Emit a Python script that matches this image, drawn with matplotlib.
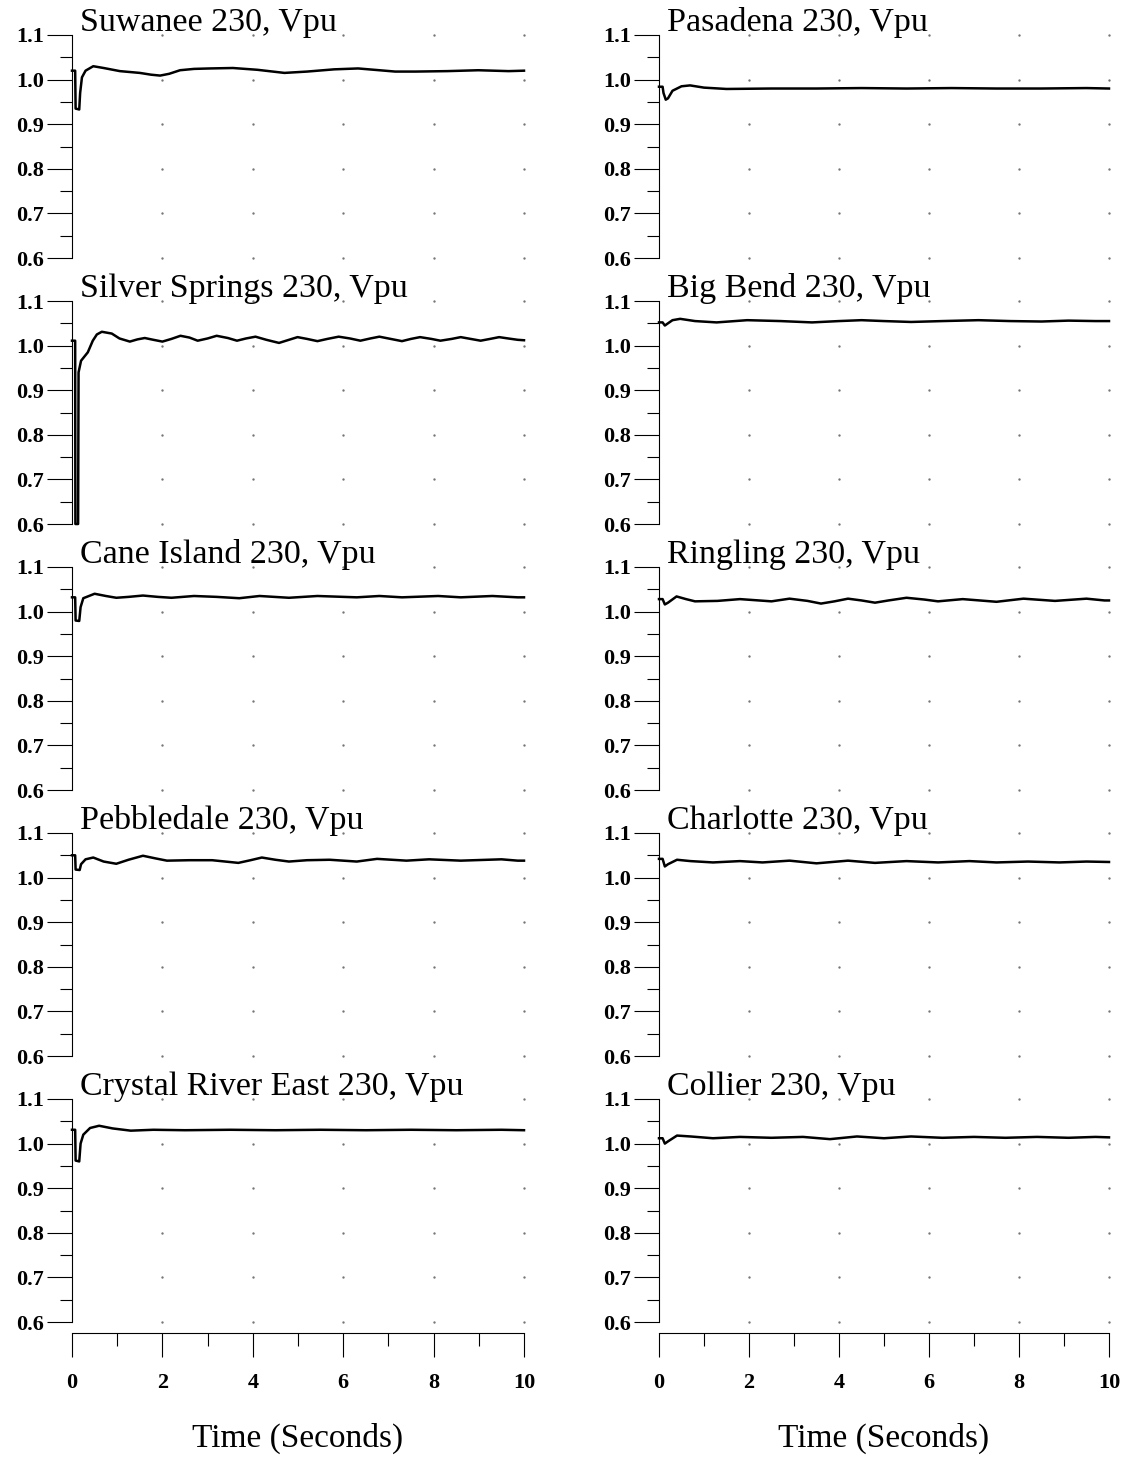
import numpy as np
import matplotlib
matplotlib.use("Agg")
import matplotlib.pyplot as plt

plt.rcParams['font.family'] = ['Liberation Serif', 'DejaVu Serif']

# ---- data (time in s, voltage in pu) ----
suwanee_t = [0, 0.07, 0.08, 0.16, 0.18, 0.22, 0.3, 0.47, 0.7, 1.06, 1.5, 1.75, 1.95, 2.15, 2.39, 2.7,
             3.05, 3.56, 4.1, 4.7, 5.2, 5.8, 6.33, 6.8, 7.15, 7.6, 8.3, 8.99, 9.66, 10]
suwanee_v = [1.02, 1.02, 0.935, 0.933, 0.97, 1.005, 1.02, 1.030, 1.026, 1.019, 1.015, 1.011, 1.009, 1.013,
             1.021, 1.024, 1.025, 1.026, 1.022, 1.015, 1.018, 1.023, 1.025, 1.021, 1.018, 1.018, 1.019,
             1.021, 1.019, 1.02]

silver_t = [0, 0.07, 0.075, 0.135, 0.145, 0.2, 0.35, 0.46, 0.55, 0.66, 0.88, 1.05, 1.28, 1.45, 1.61, 1.8,
            2.0, 2.2, 2.4, 2.6, 2.78, 3.0, 3.2, 3.45, 3.65, 3.85, 4.06, 4.3, 4.58, 4.8, 4.99, 5.2, 5.43,
            5.65, 5.9, 6.15, 6.38, 6.6, 6.8, 7.05, 7.3, 7.5, 7.7, 7.95, 8.15, 8.4, 8.6, 8.82, 9.04, 9.25,
            9.45, 9.65, 9.86, 10]
silver_v = [1.011, 1.011, 0.6, 0.6, 0.94, 0.966, 0.985, 1.011, 1.025, 1.031, 1.027, 1.016, 1.009, 1.014,
            1.017, 1.013, 1.009, 1.015, 1.022, 1.018, 1.011, 1.016, 1.022, 1.017, 1.011, 1.016, 1.020,
            1.013, 1.006, 1.013, 1.019, 1.015, 1.010, 1.015, 1.020, 1.016, 1.011, 1.016, 1.020, 1.015,
            1.010, 1.015, 1.019, 1.015, 1.011, 1.015, 1.019, 1.015, 1.011, 1.015, 1.019, 1.016, 1.013, 1.012]

cane_t = [0, 0.07, 0.08, 0.16, 0.19, 0.25, 0.5, 0.75, 0.98, 1.25, 1.57, 1.9, 2.2, 2.7, 3.2, 3.7, 4.15,
          4.8, 5.43, 6.3, 6.8, 7.3, 8.1, 8.6, 9.3, 9.86, 10]
cane_v = [1.032, 1.032, 0.98, 0.979, 1.01, 1.03, 1.040, 1.035, 1.031, 1.033, 1.036, 1.033, 1.031, 1.035,
          1.033, 1.030, 1.035, 1.031, 1.035, 1.032, 1.035, 1.032, 1.035, 1.032, 1.035, 1.032, 1.032]

pebble_t = [0, 0.07, 0.08, 0.17, 0.2, 0.3, 0.47, 0.7, 0.98, 1.25, 1.57, 1.85, 2.1, 2.6, 3.1, 3.68, 3.95,
            4.2, 4.5, 4.8, 5.2, 5.7, 6.3, 6.75, 7.4, 7.9, 8.6, 9.5, 9.86, 10]
pebble_v = [1.05, 1.05, 1.018, 1.017, 1.03, 1.041, 1.045, 1.036, 1.031, 1.04, 1.049, 1.043, 1.038, 1.039,
            1.039, 1.033, 1.039, 1.045, 1.04, 1.036, 1.039, 1.040, 1.036, 1.042, 1.038, 1.041, 1.038,
            1.041, 1.038, 1.038]

crystal_t = [0, 0.07, 0.08, 0.16, 0.19, 0.25, 0.4, 0.6, 0.9, 1.3, 1.8, 2.5, 3.5, 4.5, 5.5, 6.5, 7.5,
             8.5, 9.5, 10]
crystal_v = [1.031, 1.031, 0.962, 0.96, 1.0, 1.02, 1.035, 1.04, 1.034, 1.029, 1.031, 1.030, 1.031, 1.03,
             1.031, 1.03, 1.031, 1.03, 1.031, 1.03]

pasadena_t = [0, 0.08, 0.1, 0.15, 0.2, 0.3, 0.5, 0.69, 1.0, 1.5, 2.5, 3.5, 4.5, 5.5, 6.5, 7.5, 8.5, 9.5, 10]
pasadena_v = [0.984, 0.984, 0.97, 0.955, 0.958, 0.975, 0.985, 0.987, 0.982, 0.979, 0.980, 0.980, 0.981,
              0.980, 0.981, 0.980, 0.980, 0.981, 0.980]

bigbend_t = [0, 0.08, 0.13, 0.2, 0.3, 0.47, 0.8, 1.28, 1.96, 2.7, 3.4, 4.0, 4.5, 5.0, 5.6, 6.3, 7.1, 7.8,
             8.5, 9.1, 9.7, 10]
bigbend_v = [1.052, 1.052, 1.045, 1.05, 1.057, 1.060, 1.055, 1.052, 1.057, 1.055, 1.052, 1.055, 1.057,
             1.055, 1.053, 1.055, 1.057, 1.055, 1.054, 1.056, 1.055, 1.055]

ringling_t = [0, 0.08, 0.13, 0.2, 0.39, 0.6, 0.8, 1.3, 1.8, 2.5, 2.9, 3.3, 3.6, 3.9, 4.2, 4.5, 4.8, 5.1,
              5.5, 5.9, 6.2, 6.75, 7.5, 8.1, 8.8, 9.5, 9.9, 10]
ringling_v = [1.028, 1.028, 1.016, 1.02, 1.034, 1.028, 1.023, 1.024, 1.028, 1.023, 1.029, 1.024, 1.018,
              1.023, 1.029, 1.025, 1.020, 1.025, 1.031, 1.027, 1.023, 1.028, 1.022, 1.029, 1.024, 1.029,
              1.025, 1.025]

charlotte_t = [0, 0.08, 0.13, 0.2, 0.4, 0.7, 1.2, 1.8, 2.3, 2.9, 3.5, 4.2, 4.8, 5.5, 6.2, 6.9, 7.5, 8.2,
               8.9, 9.5, 10]
charlotte_v = [1.042, 1.042, 1.025, 1.03, 1.040, 1.037, 1.034, 1.037, 1.034, 1.038, 1.032, 1.038, 1.033,
               1.037, 1.034, 1.037, 1.034, 1.036, 1.034, 1.036, 1.035]

collier_t = [0, 0.08, 0.13, 0.2, 0.4, 0.7, 1.2, 1.8, 2.5, 3.2, 3.8, 4.4, 5.0, 5.6, 6.3, 7.0, 7.7, 8.4,
             9.1, 9.7, 10]
collier_v = [1.012, 1.012, 1.0, 1.005, 1.018, 1.016, 1.012, 1.015, 1.013, 1.015, 1.010, 1.016, 1.012,
             1.016, 1.013, 1.015, 1.013, 1.015, 1.013, 1.015, 1.014]

left_names = ["Suwanee 230, Vpu", "Silver Springs 230, Vpu", "Cane Island 230, Vpu",
              "Pebbledale 230, Vpu", "Crystal River East 230, Vpu"]
right_names = ["Pasadena 230, Vpu", "Big Bend 230, Vpu", "Ringling 230, Vpu",
               "Charlotte 230, Vpu", "Collier 230, Vpu"]
left_data = [(suwanee_t, suwanee_v), (silver_t, silver_v), (cane_t, cane_v),
             (pebble_t, pebble_v), (crystal_t, crystal_v)]
right_data = [(pasadena_t, pasadena_v), (bigbend_t, bigbend_v), (ringling_t, ringling_v),
              (charlotte_t, charlotte_v), (collier_t, collier_v)]

y_ticks = [0.6, 0.7, 0.8, 0.9, 1.0, 1.1]
y_minor = [0.65, 0.75, 0.85, 0.95, 1.05]
x_ticks = [0, 2, 4, 6, 8, 10]
x_minor = [1, 3, 5, 7, 9]

W, H = 1125, 1457
fig = plt.figure(figsize=(W / 100, H / 100), dpi=100)

columns = [(72, 452, left_names, left_data), (659, 450, right_names, right_data)]

for x0, xw, names, data in columns:
    for r in range(5):
        bottom = 1 - (258 + 266 * r) / H
        ax = fig.add_axes([x0 / W, bottom, xw / W, 223 / H])
        ax.set_xlim(0, 10)
        ax.set_ylim(0.6, 1.1)
        for s in ['top', 'right', 'bottom']:
            ax.spines[s].set_visible(False)
        ax.spines['left'].set_linewidth(0.8)
        ax.set_xticks([])
        ax.set_yticks(y_ticks)
        ax.set_yticklabels(["%.1f" % v for v in y_ticks], fontweight='bold')
        ax.set_yticks(y_minor, minor=True)
        ax.tick_params(axis='y', which='major', direction='out', length=18, width=0.8,
                       labelsize=16, pad=2)
        ax.tick_params(axis='y', which='minor', direction='out', length=9, width=0.8)

        # dotted grid: one dot per (x major, y major) crossing
        gx, gy = np.meshgrid(x_ticks[1:], y_ticks)
        ax.plot(gx.ravel(), gy.ravel(), '.', ms=1.4, color='0.45', clip_on=False)

        t, v = data[r]
        ax.plot(t, v, color='black', lw=1.8, clip_on=False)
        ax.text(8 / xw, 1.02, names[r], transform=ax.transAxes, fontsize=24.5, va='baseline')

    # shared time axis under each column
    xa = fig.add_axes([x0 / W, 1 - 1333 / H, xw / W, 0.0001])
    xa.patch.set_visible(False)
    for s in ['top', 'right', 'left']:
        xa.spines[s].set_visible(False)
    xa.spines['bottom'].set_linewidth(0.8)
    xa.set_xlim(0, 10)
    xa.set_yticks([])
    xa.set_xticks(x_ticks)
    xa.set_xticklabels([str(v) for v in x_ticks], fontweight='bold')
    xa.set_xticks(x_minor, minor=True)
    xa.tick_params(axis='x', which='major', direction='out', length=17, width=0.8,
                   labelsize=16, pad=12)
    xa.tick_params(axis='x', which='minor', direction='out', length=9, width=0.8)
    fig.text((x0 + xw / 2) / W, 1 - 1438 / H, "Time (Seconds)", ha='center', va='center', fontsize=24)

fig.savefig("out.png", dpi=100)
